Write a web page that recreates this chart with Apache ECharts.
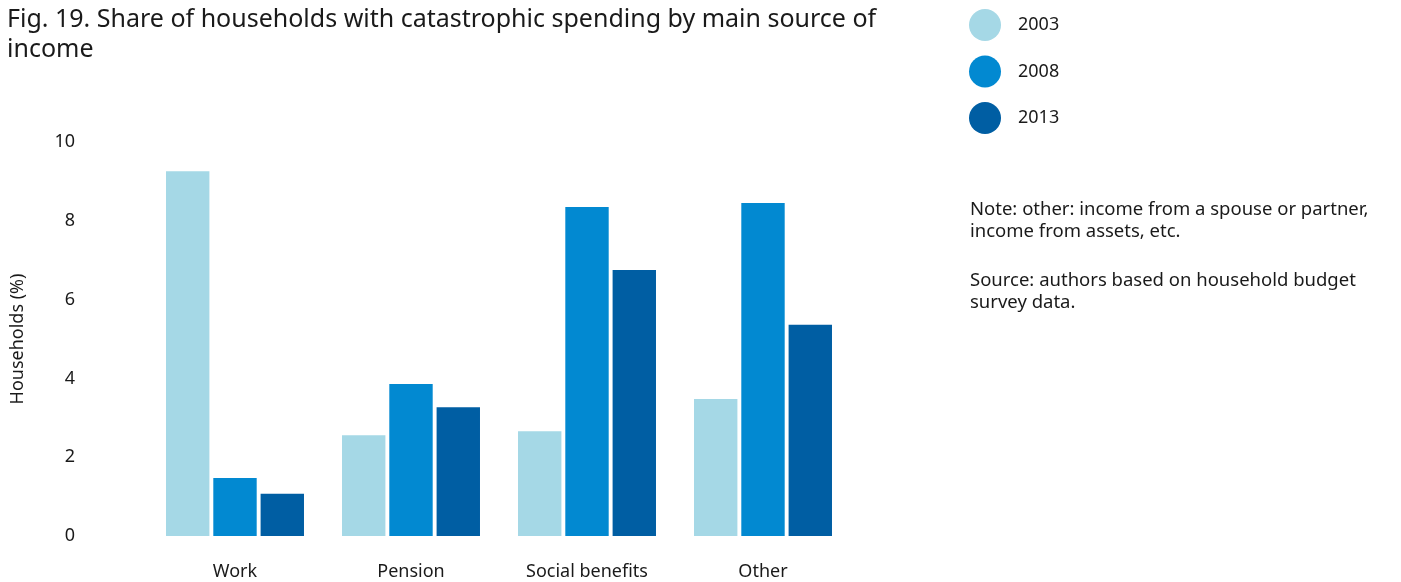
<!DOCTYPE html>
<html>
<head>
<meta charset="utf-8">
<script src="https://cdn.jsdelivr.net/npm/echarts@6/dist/echarts.min.js"></script>
<style>
html,body{margin:0;padding:0;background:#fff;}
#chart{width:1401px;height:582px;}
</style>
</head>
<body>
<div id="chart"></div>
<script>
const categories = ['Work', 'Pension', 'Social benefits', 'Other'];
const seriesNames = ['2003', '2008', '2013'];
const values2003 = [9.26, 2.56, 2.66, 3.48];
const values2008 = [1.47, 3.86, 8.35, 8.45];
const values2013 = [1.07, 3.27, 6.75, 5.36];
const yTicks = [0, 2, 4, 6, 8, 10];
const colors = ['#a5d8e6', '#0289d1', '#005ea3'];
const titleText = 'Fig. 19. Share of households with catastrophic spending by main source of\nincome';
const noteLines = ['Note: other: income from a spouse or partner,', 'income from assets, etc.'];
const sourceLines = ['Source: authors based on household budget', 'survey data.'];

const FONT = '"Noto Sans", sans-serif';
const chart = echarts.init(document.getElementById('chart'));
const allValues = [values2003, values2008, values2013];

chart.setOption({
  animation: false,
  textStyle: { fontFamily: FONT },
  title: {
    text: titleText,
    left: 2, top: 0,
    textStyle: { fontFamily: FONT, fontSize: 25, fontWeight: 'normal', color: '#1a1a1a', lineHeight: 30 }
  },
  legend: {
    orient: 'vertical',
    left: 964, top: 4,
    icon: 'circle',
    itemWidth: 32, itemHeight: 32,
    itemGap: 14.5,
    data: seriesNames,
    textStyle: { fontFamily: FONT, fontSize: 18, color: '#1a1a1a', padding: [0, 0, 0, 12] }
  },
  grid: { left: 147, top: 142, width: 704, bottom: 46, containLabel: false, outerBoundsMode: 'none' },
  xAxis: {
    type: 'category',
    data: categories,
    axisLine: { show: false },
    axisTick: { show: false },
    axisLabel: { margin: 27, fontSize: 18, color: '#1a1a1a', fontFamily: FONT }
  },
  yAxis: {
    type: 'value',
    min: yTicks[0], max: yTicks[yTicks.length - 1], interval: 2,
    name: 'Households (%)',
    nameLocation: 'middle',
    nameGap: 120,
    nameRotate: 90,
    nameTextStyle: { fontSize: 18, color: '#1a1a1a', fontFamily: FONT },
    splitLine: { show: false },
    axisLine: { show: false },
    axisTick: { show: false },
    axisLabel: { margin: 72, fontSize: 18, color: '#1a1a1a', fontFamily: FONT }
  },
  series: seriesNames.map((n, i) => ({
    name: n,
    type: 'bar',
    data: allValues[i],
    itemStyle: { color: colors[i] },
    barGap: '9%',
    barCategoryGap: '21.6%'
  })),
  graphic: [
    {
      type: 'text', left: 970, top: 199,
      style: { text: noteLines.join('\n'), font: '18.5px "Noto Sans", sans-serif', fill: '#1a1a1a', lineHeight: 22 }
    },
    {
      type: 'text', left: 970, top: 270,
      style: { text: sourceLines.join('\n'), font: '18.5px "Noto Sans", sans-serif', fill: '#1a1a1a', lineHeight: 22 }
    }
  ]
});
</script>
</body>
</html>
